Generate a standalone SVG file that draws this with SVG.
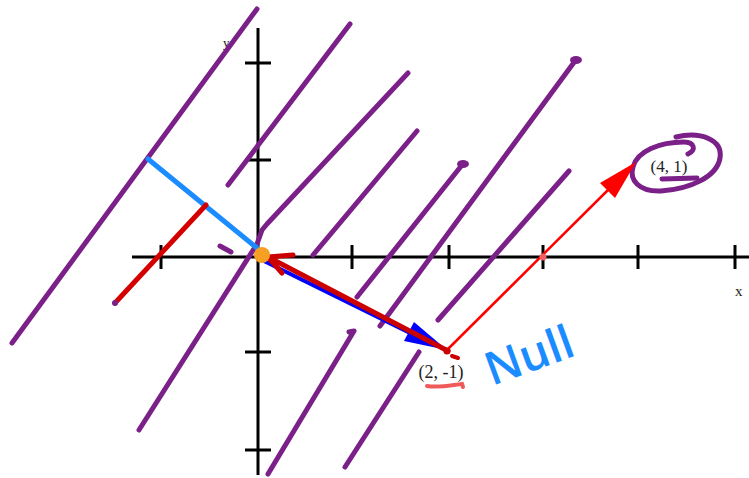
<svg xmlns="http://www.w3.org/2000/svg" width="749" height="478" viewBox="0 0 749 478">
<defs>
<style>
.ax{stroke:#000;stroke-width:3;fill:none}
.pu{stroke:#7b2088;stroke-width:5;fill:none;stroke-linecap:round;stroke-linejoin:round}
.lbl{font-family:"Liberation Serif","DejaVu Serif",serif;fill:#222}
</style>
</defs>
<rect width="749" height="478" fill="#fff"/>
<g id="axes">
<text class="lbl" x="223" y="47" font-size="13" fill="#777">y</text>
<line class="ax" x1="132" y1="257" x2="749" y2="257"/>
<line class="ax" x1="258" y1="28" x2="258" y2="475"/>
<path class="ax" d="M161,245V269M352,245V269M449,245V269M543,245V269M638,245V269M735,245V269"/>
<path class="ax" d="M245,63H271M245,160H271M245,352H271M245,450H271"/>
<text class="lbl" x="735" y="296" font-size="15">x</text>
</g>
<g id="purple-lines">
<path class="pu" d="M257,9L12,343"/>
<path class="pu" d="M228,185L350,24"/>
<path class="pu" d="M139,430L257,244L262,230L267,224L408,73"/>
<path class="pu" d="M313,255L417,131"/>
<path class="pu" d="M357,297L462,165"/>
<path class="pu" d="M380,326L575,61"/>
<path class="pu" d="M438,320L569,171"/>
<path class="pu" d="M268,474L354,331L349,332"/>
<path class="pu" d="M345,467L419,352"/>
<path class="pu" d="M220,246L231,252"/>
<ellipse cx="463" cy="164" rx="6" ry="4" fill="#7b2088"/>
<ellipse cx="576" cy="60" rx="6" ry="4" fill="#7b2088"/>
<path class="pu" d="M676,137C701,131 723,140 720,158C717,177 690,189 661,191C639,192 629,180 633,167C637,151 660,142 684,142C694,142 697,150 688,154"/>
<path class="pu" d="M662,179L697,178"/>
</g>
<g id="projection">
<line x1="148" y1="159" x2="257" y2="248" stroke="#1a8cff" stroke-width="5" stroke-linecap="round"/>
<line x1="115" y1="303" x2="206" y2="205" stroke="#d40000" stroke-width="5" stroke-linecap="round"/>
<circle cx="115" cy="303" r="3" fill="#7b2088"/>
</g>
<g id="connectors">
<line x1="264" y1="261" x2="412" y2="334" stroke="#0000ff" stroke-width="4"/>
<polygon points="447,350 404,341 414,322" fill="#0000ff"/>
<line x1="448" y1="351" x2="268" y2="257" stroke="#cc0000" stroke-width="5" stroke-linecap="round"/>
<path d="M293,255L268,257L282,273" stroke="#cc0000" stroke-width="5" fill="none" stroke-linecap="round" stroke-linejoin="round"/>
<line x1="447" y1="350" x2="610" y2="188" stroke="#ff0000" stroke-width="2.5"/>
<polygon points="636,162 600,183 615,198" fill="#ff0000"/>
<circle cx="543" cy="257" r="3.5" fill="#f06060"/>
</g>
<g id="origin">
<circle cx="262" cy="255" r="8" fill="#f5a023"/>
</g>
<g id="point-2-1">
<circle cx="447" cy="351" r="3.5" fill="#cc0000"/>
<path d="M452,356L458,358" stroke="#cc0000" stroke-width="4" stroke-linecap="round"/>
<text class="lbl" x="441" y="378" font-size="18" text-anchor="middle">(2, -1)</text>
<path d="M427,386C440,388 452,385 462,384L463,387" stroke="#f05a5a" stroke-width="4" fill="none" stroke-linecap="round"/>
</g>
<g id="point-4-1">
<text class="lbl" x="669" y="172" font-size="17" text-anchor="middle">(4, 1)</text>
</g>
<g id="null-label">
<text x="492" y="386" transform="rotate(-20 492 386)" font-family="'Open Sans','DejaVu Sans',sans-serif" font-weight="600" font-size="46" fill="#1a8cff">Null</text>
</g>
</svg>
